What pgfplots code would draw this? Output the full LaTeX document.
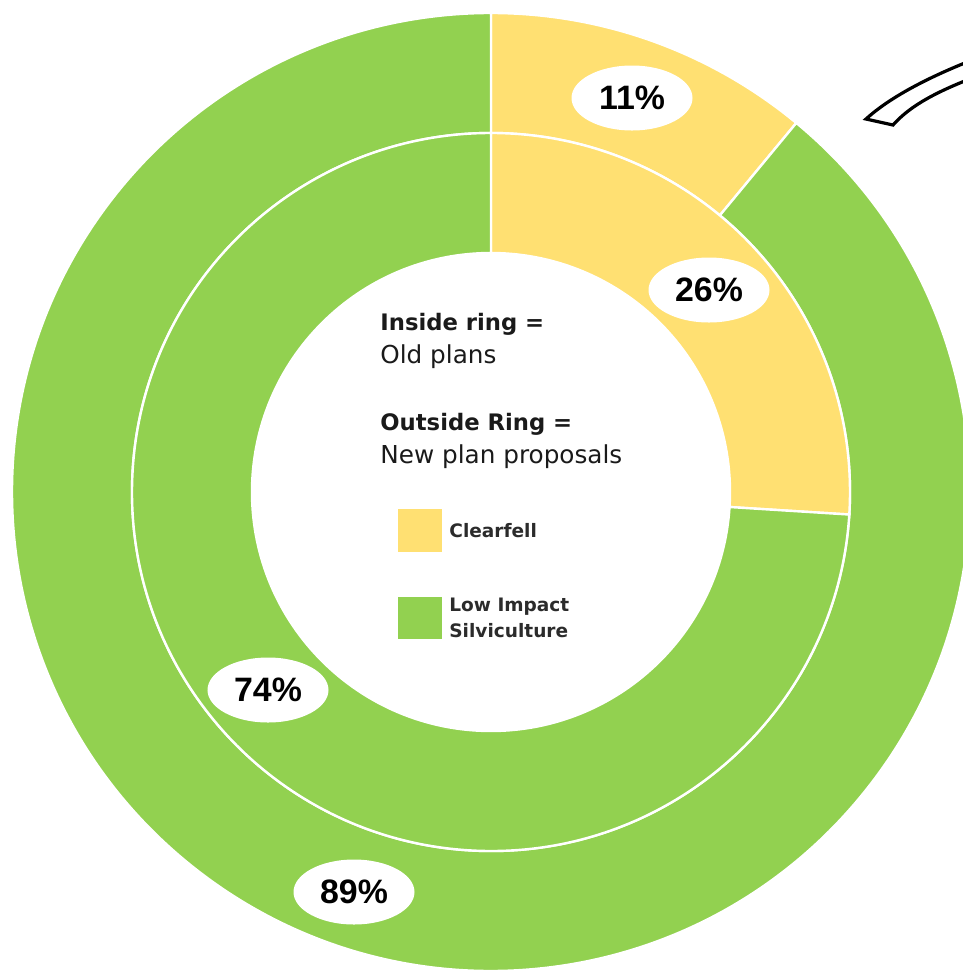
\documentclass[border=0pt]{standalone}
\usepackage{pgfplots}
\pgfplotsset{compat=1.18}
\usepackage{pgfplotstable}
\usepackage{fontspec}
\setmainfont{DejaVu Sans}
\newfontfamily\labelfont{Liberation Sans}
\usetikzlibrary{shapes.geometric}
\definecolor{cf}{HTML}{FFE072}
\definecolor{lis}{HTML}{92D150}
\definecolor{txt}{HTML}{1A1A1A}
\definecolor{legtxt}{HTML}{2B2B2B}

\pgfplotstableread{
ring clearfell lis
inner 26 74
outer 11 89
}\ringdata

\begin{document}
\begin{tikzpicture}
\pgfplotstablegetelem{0}{clearfell}\of\ringdata \let\inCF\pgfplotsretval
\pgfplotstablegetelem{1}{clearfell}\of\ringdata \let\outCF\pgfplotsretval
\pgfmathsetmacro{\inA}{90-3.6*\inCF}
\pgfmathsetmacro{\outA}{90-3.6*\outCF}
\def\Ri{119.5bp}
\def\Rm{179.5bp}
\def\Ro{239.5bp}
\begin{axis}[x=0.5bp, y=0.5bp, xmin=0, xmax=963, ymin=0, ymax=974,
  y dir=reverse, hide axis, clip=true]
% outer ring (new plan proposals)
\fill[cf, draw=white, line width=1.2bp, shift={(axis cs:491,492)}]
  (90:\Ro) arc[start angle=90, end angle=\outA, radius=\Ro]
  -- (\outA:\Rm) arc[start angle=\outA, end angle=90, radius=\Rm] -- cycle;
\fill[lis, draw=white, line width=1.2bp, shift={(axis cs:491,492)}]
  (\outA:\Ro) arc[start angle=\outA, end angle=-270, radius=\Ro]
  -- (-270:\Rm) arc[start angle=-270, end angle=\outA, radius=\Rm] -- cycle;
% inner ring (old plans)
\fill[cf, draw=white, line width=1.2bp, shift={(axis cs:491,492)}]
  (90:\Rm) arc[start angle=90, end angle=\inA, radius=\Rm]
  -- (\inA:\Ri) arc[start angle=\inA, end angle=90, radius=\Ri] -- cycle;
\fill[lis, draw=white, line width=1.2bp, shift={(axis cs:491,492)}]
  (\inA:\Rm) arc[start angle=\inA, end angle=-270, radius=\Rm]
  -- (-270:\Ri) arc[start angle=-270, end angle=\inA, radius=\Ri] -- cycle;
% arrow fragment top right
\draw[black, line width=1.6bp, fill=white, line join=miter]
  (axis cs:866,119) .. controls (axis cs:888,99) and (axis cs:925,78) .. (axis cs:980,57)
  -- (axis cs:980,75) .. controls (axis cs:935,92) and (axis cs:910,106) .. (axis cs:893,125) -- cycle;
% percentage labels
\tikzset{pl/.style={ellipse, fill=white, minimum width=60.5bp, minimum height=32.5bp, inner sep=0pt,
  font=\labelfont\bfseries\fontsize{17}{17}\selectfont, text=black}}
\node[pl] at (axis cs:632,98) {11\%};
\node[pl] at (axis cs:709,290) {26\%};
\node[pl] at (axis cs:268,690) {74\%};
\node[pl] at (axis cs:354,892) {89\%};
% centre text
\node[anchor=base west, inner sep=0pt, text=txt, font=\bfseries\fontsize{11.4}{13}\selectfont] at (axis cs:380,330) {Inside ring =};
\node[anchor=base west, inner sep=0pt, text=txt, font=\fontsize{12.4}{14}\selectfont] at (axis cs:380,363) {Old plans};
\node[anchor=base west, inner sep=0pt, text=txt, font=\bfseries\fontsize{11.4}{13}\selectfont] at (axis cs:380,430) {Outside Ring =};
\node[anchor=base west, inner sep=0pt, text=txt, font=\fontsize{12.4}{14}\selectfont] at (axis cs:380,463) {New plan proposals};
% legend
\fill[cf] (axis cs:398,509) rectangle (axis cs:442,552);
\fill[lis] (axis cs:398,597) rectangle (axis cs:442,639);
\node[anchor=base west, inner sep=0pt, text=legtxt, font=\bfseries\fontsize{9.3}{11}\selectfont] at (axis cs:449,537) {Clearfell};
\node[anchor=base west, inner sep=0pt, text=legtxt, font=\bfseries\fontsize{9.3}{11}\selectfont] at (axis cs:449,611) {Low Impact};
\node[anchor=base west, inner sep=0pt, text=legtxt, font=\bfseries\fontsize{9.3}{11}\selectfont] at (axis cs:449,637) {Silviculture};
\end{axis}
\pgfresetboundingbox
\path (current axis.south west) rectangle (current axis.north east);
\end{tikzpicture}
\end{document}
